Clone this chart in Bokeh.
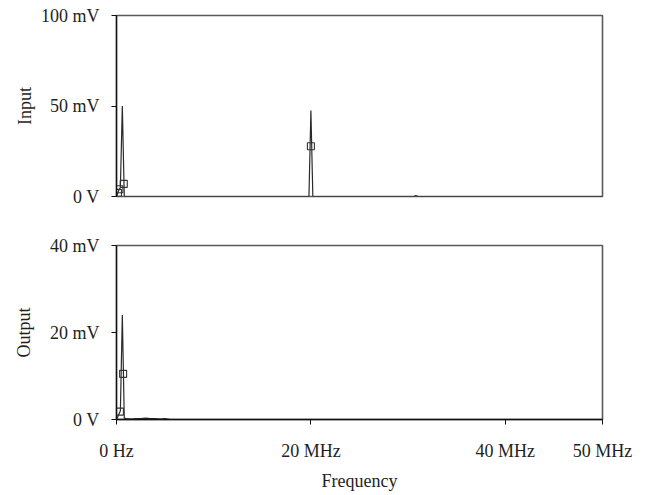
from bokeh.plotting import figure
from bokeh.layouts import column
from bokeh.models import Range1d, FixedTicker
from bokeh.embed import file_html
from bokeh.resources import INLINE

# Data (frequency in MHz, voltage in mV)
in_freq = [0.0, 0.2, 0.4, 0.6, 0.8, 19.8, 20.0, 20.2, 30.6, 30.8, 31.0, 50.0]
in_volt = [0.0, 3.0, 5.0, 50.0, 0.0, 0.0, 47.5, 0.0, 0.0, 0.6, 0.0, 0.0]
in_mark_freq = [0.15, 0.3, 0.75, 20.0]
in_mark_volt = [2.0, 4.0, 7.0, 27.8]

out_freq = [0.0, 0.2, 0.4, 0.6, 0.8, 1.0, 1.5, 2.0, 2.5, 3.0, 3.5, 4.0, 4.5, 5.0, 5.5, 50.0]
out_volt = [0.0, 1.0, 2.0, 24.0, 0.3, 0.2, 0.1, 0.2, 0.2, 0.3, 0.2, 0.2, 0.1, 0.2, 0.0, 0.0]
out_mark_freq = [0.35, 0.68]
out_mark_volt = [1.8, 10.5]

x_ticks = [0, 20, 40, 50]
x_labels = ["0 Hz", "20 MHz", "40 MHz", "50 MHz"]
in_ticks = [0, 50, 100]
in_labels = ["0 V", "50 mV", "100 mV"]
out_ticks = [0, 20, 40]
out_labels = ["0 V", "20 mV", "40 mV"]

FONT = "Liberation Serif"
FS = "18px"
TXT = "#231f20"


def style(p, yticks, ylabels, ylabel, ylabel_standoff, show_x):
    p.outline_line_color = "#5a5a5a"
    p.outline_line_width = 1.6
    p.xgrid.visible = False
    p.ygrid.visible = False
    ax = p.yaxis[0]
    ax.ticker = FixedTicker(ticks=yticks)
    ax.major_label_overrides = {t: l for t, l in zip(yticks, ylabels)}
    ax.axis_label = ylabel
    ax.axis_label_text_font = FONT
    ax.axis_label_text_font_style = "normal"
    ax.axis_label_text_font_size = FS
    ax.axis_label_text_color = TXT
    ax.axis_label_standoff = ylabel_standoff
    ax.major_label_text_font = FONT
    ax.major_label_text_font_size = FS
    ax.major_label_text_color = TXT
    ax.major_label_standoff = 12
    ax.major_tick_out = 5
    ax.major_tick_in = 0
    ax.minor_tick_line_color = None
    ax.axis_line_color = "#111111"
    ax.axis_line_width = 1.3
    ax.major_tick_line_color = "#111111"
    xa = p.xaxis[0]
    if show_x:
        xa.ticker = FixedTicker(ticks=x_ticks)
        xa.major_label_overrides = {t: l for t, l in zip(x_ticks, x_labels)}
        xa.axis_label = "Frequency"
        xa.axis_label_text_font = FONT
        xa.axis_label_text_font_style = "normal"
        xa.axis_label_text_font_size = FS
        xa.axis_label_text_color = TXT
        xa.axis_label_standoff = 7
        xa.major_label_text_font = FONT
        xa.major_label_text_font_size = FS
        xa.major_label_text_color = TXT
        xa.major_label_standoff = 16
        xa.major_tick_out = 5
        xa.major_tick_in = 0
        xa.minor_tick_line_color = None
        xa.axis_line_color = "#111111"
        xa.axis_line_width = 1.3
        xa.major_tick_line_color = "#111111"
    else:
        xa.visible = False


p1 = figure(width=650, height=228, output_backend="svg", toolbar_location=None,
            x_range=Range1d(0, 50), y_range=Range1d(0, 100),
            min_border_left=116, min_border_right=48, min_border_top=15, min_border_bottom=32)
p1.line(in_freq, in_volt, line_color="#2a2a2a", line_width=1.2)
p1.scatter(in_mark_freq, in_mark_volt, marker="square", size=7, fill_color=None,
           line_color="#333333", line_width=1.1)
style(p1, in_ticks, in_labels, "Input", 3, False)

p2 = figure(width=650, height=265, output_backend="svg", toolbar_location=None,
            x_range=Range1d(0, 50), y_range=Range1d(0, 40),
            min_border_left=116, min_border_right=48, min_border_top=17, min_border_bottom=68)
p2.line(out_freq, out_volt, line_color="#2a2a2a", line_width=1.2)
p2.scatter(out_mark_freq, out_mark_volt, marker="square", size=7, fill_color=None,
           line_color="#333333", line_width=1.1)
style(p2, out_ticks, out_labels, "Output", 13, True)

layout = column(p1, p2, spacing=0)
open("out.html", "w").write(file_html(layout, INLINE))
